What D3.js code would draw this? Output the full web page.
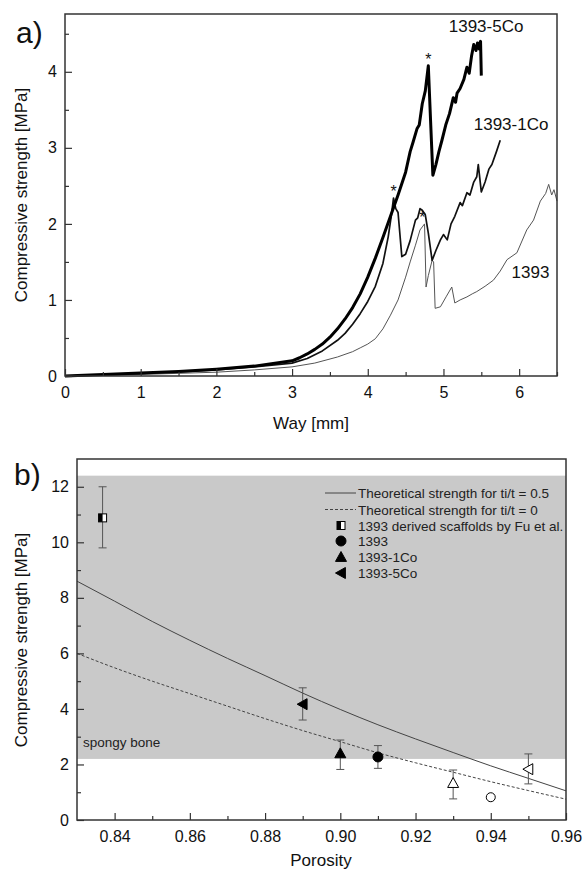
<!DOCTYPE html>
<html lang="en">
<head>
<meta charset="UTF-8">
<title>Compressive strength</title>
<style>
    body { margin: 0; background: #ffffff; font-family: "Liberation Sans", Arial, sans-serif; }
    svg { display: block; }
    .tick text { font-size: 16px; fill: #111; font-family: "Liberation Sans", Arial, sans-serif; }
    .tick line { stroke: #333; stroke-width: 1.2px; }
    .domain { display: none; }
    .frame { fill: none; stroke: #333; stroke-width: 1.5px; }
    .title { font-size: 17px; fill: #111; }
    .legend text { font-size: 13.5px; fill: #222; }
    .err { stroke: #555; stroke-width: 1px; fill: none; }
</style>
</head>
<body>
<script src="https://d3js.org/d3.v7.min.js"></script>
<script>
// ---- panel a) data: way [mm] vs compressive strength [MPa]
const way5Co = [0, 0.5, 1, 1.5, 2, 2.5, 3, 3.1, 3.2, 3.3, 3.4, 3.5, 3.6, 3.7, 3.8, 3.9, 4.0, 4.1, 4.2, 4.3, 4.4, 4.5, 4.56, 4.6, 4.65, 4.68, 4.72, 4.76, 4.8, 4.83, 4.86, 4.9, 4.94, 4.98, 5.03, 5.08, 5.13, 5.16, 5.18, 5.22, 5.27, 5.31, 5.34, 5.37, 5.4, 5.43, 5.45, 5.47, 5.49, 5.5];
const str5Co = [0, 0.02, 0.04, 0.06, 0.09, 0.13, 0.2, 0.24, 0.29, 0.35, 0.42, 0.51, 0.62, 0.75, 0.9, 1.08, 1.3, 1.55, 1.82, 2.1, 2.38, 2.68, 2.95, 3.08, 3.25, 3.3, 3.58, 3.75, 4.08, 3.35, 2.64, 2.78, 2.95, 3.1, 3.3, 3.45, 3.66, 3.6, 3.72, 3.78, 3.9, 4.06, 3.98, 4.2, 4.36, 4.28, 4.38, 4.3, 4.4, 3.95];

const way1Co = [0, 0.5, 1, 1.5, 2, 2.5, 3, 3.2, 3.4, 3.6, 3.7, 3.8, 3.9, 4.0, 4.1, 4.2, 4.27, 4.31, 4.34, 4.37, 4.4, 4.45, 4.5, 4.56, 4.63, 4.66, 4.69, 4.72, 4.76, 4.8, 4.85, 4.9, 4.96, 5.0, 5.05, 5.1, 5.15, 5.22, 5.25, 5.31, 5.35, 5.4, 5.44, 5.46, 5.5, 5.55, 5.6, 5.64, 5.7, 5.75];
const str1Co = [0, 0.015, 0.035, 0.055, 0.08, 0.12, 0.17, 0.23, 0.33, 0.47, 0.56, 0.68, 0.82, 0.98, 1.18, 1.48, 1.83, 2.1, 2.34, 2.2, 2.15, 1.57, 1.6, 1.78, 2.05, 2.08, 2.2, 2.18, 2.12, 1.88, 1.52, 1.65, 1.79, 1.86, 1.79, 2.0, 2.1, 2.28, 2.24, 2.41, 2.38, 2.55, 2.62, 2.78, 2.42, 2.55, 2.72, 2.78, 2.95, 3.1];

const way1393 = [0, 0.5, 1, 1.5, 2, 2.5, 3, 3.3, 3.6, 3.8, 3.9, 4.0, 4.1, 4.2, 4.3, 4.4, 4.5, 4.56, 4.63, 4.69, 4.72, 4.75, 4.77, 4.8, 4.85, 4.87, 4.89, 4.96, 5.04, 5.11, 5.15, 5.22, 5.31, 5.38, 5.44, 5.55, 5.66, 5.75, 5.84, 5.97, 6.1, 6.19, 6.28, 6.35, 6.39, 6.43, 6.46, 6.5];
const str1393 = [0, 0.01, 0.02, 0.035, 0.05, 0.08, 0.12, 0.17, 0.25, 0.32, 0.37, 0.42, 0.49, 0.62, 0.8, 1.0, 1.3, 1.5, 1.72, 1.92, 1.96, 2.0, 1.17, 1.32, 1.52, 1.5, 0.89, 0.91, 1.05, 1.17, 0.96, 1.0, 1.04, 1.08, 1.11, 1.18, 1.26, 1.38, 1.53, 1.62, 1.92, 2.05, 2.3, 2.4, 2.52, 2.38, 2.45, 2.3];

const wayTicks = [0, 1, 2, 3, 4, 5, 6];
const wayMinor = [0.5, 1.5, 2.5, 3.5, 4.5, 5.5, 6.5];
const strTicksA = [0, 1, 2, 3, 4];
const strMinorA = [0.5, 1.5, 2.5, 3.5, 4.5];

// ---- panel b) data: porosity vs compressive strength [MPa]
const porosityGrid = [0.83, 0.84, 0.85, 0.86, 0.87, 0.88, 0.89, 0.90, 0.91, 0.92, 0.93, 0.94, 0.95, 0.96];
const theoryHalf = [8.6, 7.88, 7.15, 6.47, 5.82, 5.2, 4.57, 3.98, 3.43, 2.92, 2.43, 1.95, 1.5, 1.05];
const theoryZero = [6.0, 5.48, 5.0, 4.55, 4.1, 3.65, 3.22, 2.82, 2.42, 2.06, 1.72, 1.38, 1.06, 0.75];

const pointNames = ["Fu et al.", "1393-5Co", "1393-1Co", "1393", "1393-1Co open", "1393 open", "1393-5Co open"];
const pointShapes = ["halfsquare", "left", "up", "circle", "up", "circle", "left"];
const pointFilled = [true, true, true, true, false, false, false];
const pointPorosity = [0.8368, 0.89, 0.90, 0.91, 0.93, 0.94, 0.95];
const pointStrength = [10.88, 4.17, 2.4, 2.27, 1.33, 0.82, 1.83];
const pointLow = [9.8, 3.6, 1.82, 1.86, 0.76, null, 1.3];
const pointHigh = [12.0, 4.76, 2.88, 2.68, 1.8, null, 2.38];

const spongyLow = 2.2, spongyHigh = 12.4;
const porTicks = [0.84, 0.86, 0.88, 0.90, 0.92, 0.94, 0.96];
const porMinor = [0.85, 0.87, 0.89, 0.91, 0.93, 0.95];
const strTicksB = [0, 2, 4, 6, 8, 10, 12];
const strMinorB = [1, 3, 5, 7, 9, 11];

const legendLabels = [
    "Theoretical strength for ti/t = 0.5",
    "Theoretical strength for ti/t = 0",
    "1393 derived scaffolds by Fu et al.",
    "1393",
    "1393-1Co",
    "1393-5Co"
];

const W = 587, H = 877;
const svg = d3.select("body").append("svg").attr("width", W).attr("height", H);

function drawAxes(g, x, y, xt, xm, yt, ym, xfmt) {
    const h = y.range()[0], w = x.range()[1];
    g.append("g").attr("transform", `translate(0,${h})`)
        .call(d3.axisBottom(x).tickValues(xt).tickSize(-7).tickPadding(10.5).tickFormat(xfmt));
    g.append("g").attr("transform", `translate(0,${h})`)
        .call(d3.axisBottom(x).tickValues(xm).tickSize(-4).tickFormat(""));
    g.append("g")
        .call(d3.axisLeft(y).tickValues(yt).tickSize(-7).tickPadding(8).tickFormat(d3.format("d")));
    g.append("g")
        .call(d3.axisLeft(y).tickValues(ym).tickSize(-4).tickFormat(""));
    g.append("rect").attr("class", "frame").attr("x", 0).attr("y", 0).attr("width", w).attr("height", h);
}

// ================= panel a)
const ma = { left: 65, top: 14, right: 557, bottom: 376 };
const ga = svg.append("g").attr("transform", `translate(${ma.left},${ma.top})`);
const xa = d3.scaleLinear().domain([0, 6.5]).range([0, ma.right - ma.left]);
const ya = d3.scaleLinear().domain([0, 4.76]).range([ma.bottom - ma.top, 0]);

const lineA = d3.line().x(d => xa(d[0])).y(d => ya(d[1]));
const seriesA = [
    { w: way1393, s: str1393, width: 1, color: "#555" },
    { w: way1Co, s: str1Co, width: 1.7, color: "#111" },
    { w: way5Co, s: str5Co, width: 3, color: "#000" }
];
seriesA.forEach(sr => {
    ga.append("path")
        .datum(d3.zip(sr.w, sr.s))
        .attr("fill", "none")
        .attr("stroke", sr.color)
        .attr("stroke-width", sr.width)
        .attr("stroke-linejoin", "round")
        .attr("d", lineA);
});

drawAxes(ga, xa, ya, wayTicks, wayMinor, strTicksA, strMinorA, d3.format("d"));

// curve labels and asterisks
const curveLabels = [["1393-5Co", 5.07, 4.52], ["1393-1Co", 5.4, 3.24], ["1393", 5.9, 1.29]];
curveLabels.forEach(c => {
    ga.append("text").attr("x", xa(c[1])).attr("y", ya(c[2]))
        .attr("font-size", 17).attr("fill", "#111").text(c[0]);
});
const stars = [[4.8, 4.08], [4.34, 2.34], [4.72, 2.0]];
stars.forEach(s => {
    ga.append("text").attr("x", xa(s[0])).attr("y", ya(s[1]) - 1)
        .attr("text-anchor", "middle").attr("font-size", 16).attr("fill", "#111").text("*");
});

svg.append("text").attr("class", "title").attr("x", 311).attr("y", 429)
    .attr("text-anchor", "middle").text("Way [mm]");
svg.append("text").attr("class", "title")
    .attr("transform", "translate(27,195) rotate(-90)")
    .attr("text-anchor", "middle").text("Compressive strength [MPa]");
svg.append("text").attr("x", 16).attr("y", 43).attr("font-size", 30).attr("fill", "#111").text("a)");

// ================= panel b)
const mb = { left: 77, top: 459, right: 566, bottom: 820 };
const gb = svg.append("g").attr("transform", `translate(${mb.left},${mb.top})`);
const xb = d3.scaleLinear().domain([0.83, 0.96]).range([0, mb.right - mb.left]);
const yb = d3.scaleLinear().domain([0, 13]).range([mb.bottom - mb.top, 0]);

gb.append("rect")
    .attr("x", 0).attr("width", xb(0.96))
    .attr("y", yb(spongyHigh)).attr("height", yb(spongyLow) - yb(spongyHigh))
    .attr("fill", "#c9c9c9");

gb.append("text").attr("x", 6).attr("y", yb(spongyLow) - 12)
    .attr("font-size", 13.5).attr("fill", "#222").text("spongy bone");

const lineB = d3.line().x(d => xb(d[0])).y(d => yb(d[1])).curve(d3.curveMonotoneX);
gb.append("path").datum(d3.zip(porosityGrid, theoryHalf))
    .attr("fill", "none").attr("stroke", "#444").attr("stroke-width", 1).attr("d", lineB);
gb.append("path").datum(d3.zip(porosityGrid, theoryZero))
    .attr("fill", "none").attr("stroke", "#444").attr("stroke-width", 1)
    .attr("stroke-dasharray", "3,2").attr("d", lineB);

function marker(g, shape, filled, cx, cy) {
    const r = 5.5;
    if (shape === "circle") {
        g.append("circle").attr("cx", cx).attr("cy", cy).attr("r", filled ? 5 : 4.5)
            .attr("fill", filled ? "#000" : "#fff").attr("stroke", "#000").attr("stroke-width", 1);
    } else if (shape === "up") {
        g.append("path").attr("d", `M${cx},${cy - r}L${cx + r},${cy + r * 0.8}L${cx - r},${cy + r * 0.8}Z`)
            .attr("fill", filled ? "#000" : "#fff").attr("stroke", "#000").attr("stroke-width", 1);
    } else if (shape === "left") {
        g.append("path").attr("d", `M${cx - r},${cy}L${cx + r * 0.8},${cy - r}L${cx + r * 0.8},${cy + r}Z`)
            .attr("fill", filled ? "#000" : "#fff").attr("stroke", "#000").attr("stroke-width", 1);
    } else {
        const s = 4;
        g.append("rect").attr("x", cx - s).attr("y", cy - s).attr("width", 2 * s).attr("height", 2 * s)
            .attr("fill", "#fff").attr("stroke", "#000").attr("stroke-width", 1);
        g.append("rect").attr("x", cx - s).attr("y", cy - s).attr("width", s).attr("height", 2 * s)
            .attr("fill", "#000");
    }
}

pointNames.forEach((n, i) => {
    const cx = xb(pointPorosity[i]);
    if (pointLow[i] !== null) {
        const y0 = yb(pointLow[i]), y1 = yb(pointHigh[i]);
        gb.append("path").attr("class", "err")
            .attr("d", `M${cx},${y0}V${y1}M${cx - 4},${y0}H${cx + 4}M${cx - 4},${y1}H${cx + 4}`);
    }
    marker(gb, pointShapes[i], pointFilled[i], cx, yb(pointStrength[i]));
});

drawAxes(gb, xb, yb, porTicks, porMinor, strTicksB, strMinorB, d3.format(".2f"));

// legend
const lg = svg.append("g").attr("class", "legend");
const legY = [493, 509.5, 525.5, 541, 557, 573];
legendLabels.forEach((t, i) => {
    const y = legY[i];
    if (i === 0 || i === 1) {
        lg.append("line").attr("x1", 325).attr("x2", 356).attr("y1", y).attr("y2", y)
            .attr("stroke", "#444").attr("stroke-width", 1)
            .attr("stroke-dasharray", i === 1 ? "3,2" : null);
    } else {
        const shp = ["halfsquare", "circle", "up", "left"][i - 2];
        marker(lg, shp, true, 341, y);
    }
    lg.append("text").attr("x", 358).attr("y", y + 5).text(t);
});

svg.append("text").attr("class", "title").attr("x", 321).attr("y", 866)
    .attr("text-anchor", "middle").text("Porosity");
svg.append("text").attr("class", "title")
    .attr("transform", "translate(27,640) rotate(-90)")
    .attr("text-anchor", "middle").text("Compressive strength [MPa]");
svg.append("text").attr("x", 14).attr("y", 485).attr("font-size", 30).attr("fill", "#111").text("b)");
</script>
</body>
</html>
